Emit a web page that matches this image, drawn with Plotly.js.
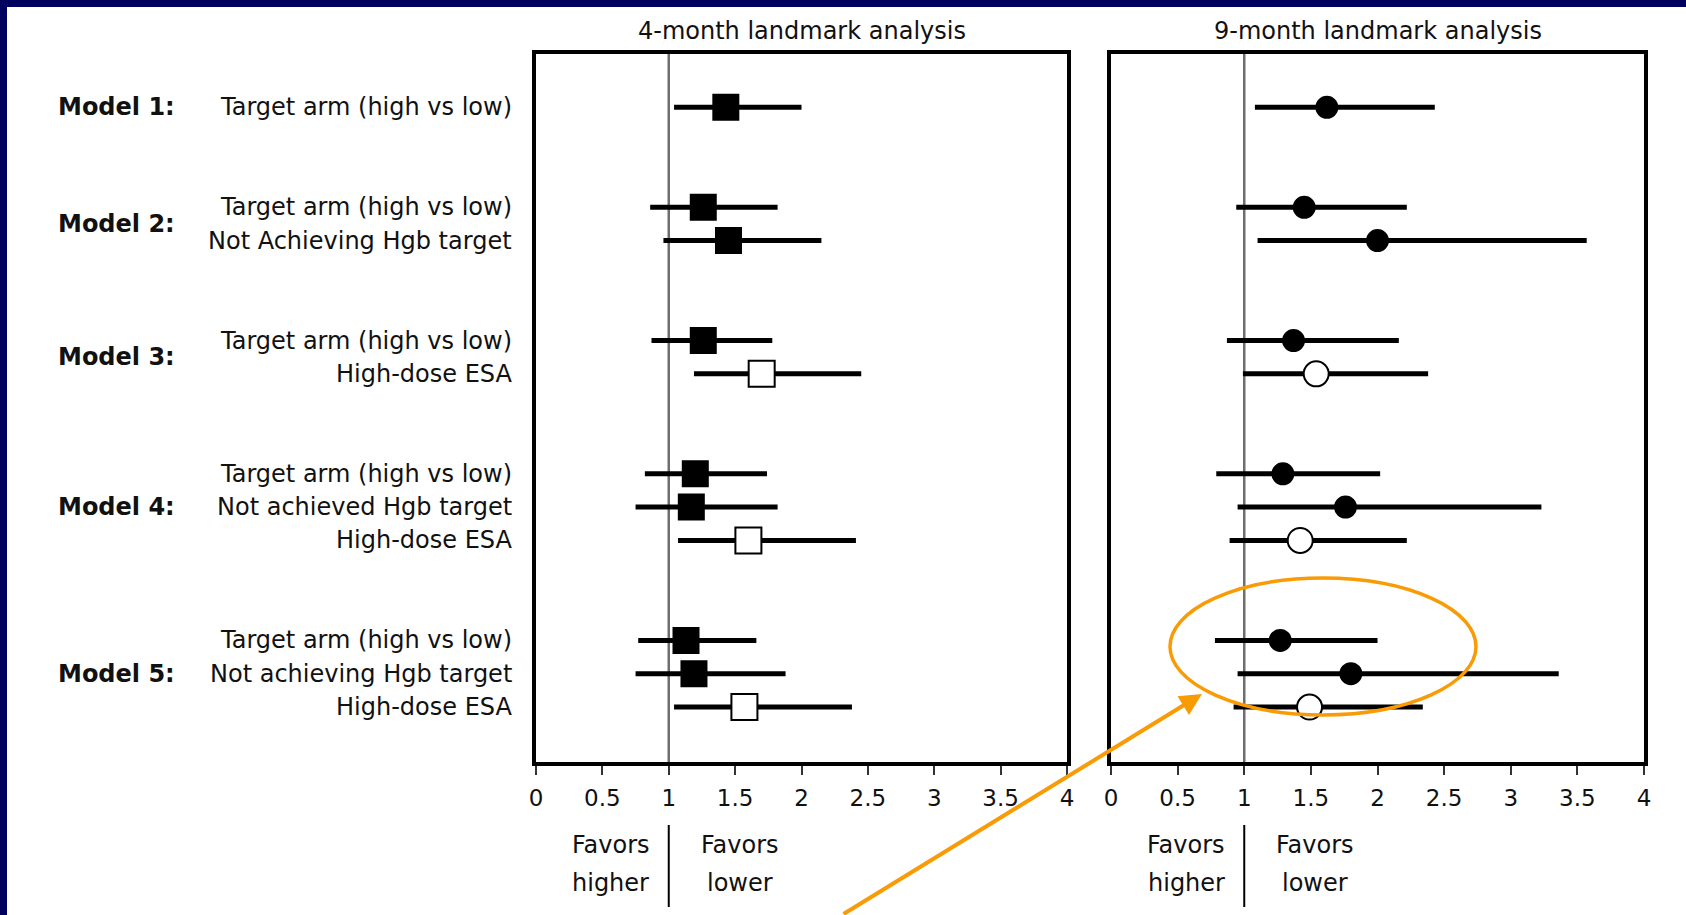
<!DOCTYPE html>
<html>
<head>
<meta charset="utf-8">
<script src="https://cdn.plot.ly/plotly-3.0.1.min.js"></script>
<style>
  html, body { margin: 0; padding: 0; background: #ffffff; }
  #chart { width: 1686px; height: 915px; }
</style>
</head>
<body>
<div id="chart"></div>
<script>
// ---------- data ----------
const modelNames = ['Model 1:', 'Model 2:', 'Model 3:', 'Model 4:', 'Model 5:'];
const rowLabels = [
  'Target arm (high vs low)',
  'Target arm (high vs low)', 'Not Achieving Hgb target',
  'Target arm (high vs low)', 'High-dose ESA',
  'Target arm (high vs low)', 'Not achieved Hgb target', 'High-dose ESA',
  'Target arm (high vs low)', 'Not achieving Hgb target', 'High-dose ESA'
];
const rowModel = [0, 1, 1, 2, 2, 3, 3, 3, 4, 4, 4];
const isESA    = [0, 0, 0, 0, 1, 0, 0, 1, 0, 0, 1];

// 4-month landmark analysis (hazard ratio, 95% CI)
const hr4   = [1.43, 1.26, 1.45, 1.26, 1.70, 1.20, 1.17, 1.60, 1.13, 1.19, 1.57];
const lo4   = [1.04, 0.86, 0.96, 0.87, 1.19, 0.82, 0.75, 1.07, 0.77, 0.75, 1.04];
const hi4   = [2.00, 1.82, 2.15, 1.78, 2.45, 1.74, 1.82, 2.41, 1.66, 1.88, 2.38];

// 9-month landmark analysis
const hr9   = [1.62, 1.45, 2.00, 1.37, 1.54, 1.29, 1.76, 1.42, 1.27, 1.80, 1.49];
const lo9   = [1.08, 0.94, 1.10, 0.87, 0.99, 0.79, 0.95, 0.89, 0.78, 0.95, 0.92];
const hi9   = [2.43, 2.22, 3.57, 2.16, 2.38, 2.02, 3.23, 2.22, 2.00, 3.36, 2.34];

const tickVals = [0, 0.5, 1, 1.5, 2, 2.5, 3, 3.5, 4];
const tickText = ['0', '0.5', '1', '1.5', '2', '2.5', '3', '3.5', '4'];
const panelTitles = ['4-month landmark analysis', '9-month landmark analysis'];
const favorsLeft = ['Favors', 'higher'];
const favorsRight = ['Favors', 'lower'];

// ---------- layout helpers ----------
const FONT = 'DejaVu Sans';
const TXT = '#111111';
const ORANGE = '#F99B05';
const NAVY = '#00005E';
const W = 1686, H = 915;
const px = v => v / W;            // horizontal pixel -> paper
const py = v => (H - v) / H;      // vertical pixel (from top) -> paper

// row positions: one unit per row, two extra units between models
const rowY = rowLabels.map((_, i) => i + 2 * rowModel[i]);

function panelTrace(hr, lo, hi, xa, ya, symbol, sizeFilled, sizeOpen) {
  return {
    type: 'scatter', mode: 'markers',
    x: hr, y: rowY, xaxis: xa, yaxis: ya,
    error_x: {
      type: 'data', symmetric: false,
      array: hr.map((v, i) => hi[i] - v),
      arrayminus: hr.map((v, i) => v - lo[i]),
      thickness: 5, width: 0, color: '#000000'
    },
    marker: {
      symbol: symbol,
      opacity: 1,
      size: isESA.map(e => e ? sizeOpen : sizeFilled),
      color: isESA.map(e => e ? '#ffffff' : '#000000'),
      line: { color: '#000000', width: 2 }
    },
    hoverinfo: 'skip', showlegend: false
  };
}

const traces = [
  panelTrace(hr4, lo4, hi4, 'x', 'y', 'square', 25, 26),
  panelTrace(hr9, lo9, hi9, 'x2', 'y2', 'circle', 21, 25)
];

const yRange = [19.65, -1.6];
const xAxisBase = {
  range: [0, 4], showgrid: false, zeroline: false,
  showline: true, mirror: true, linewidth: 4, linecolor: '#000000',
  ticks: 'outside', ticklen: 9, tickwidth: 2, tickcolor: '#333333',
  tickmode: 'array', tickvals: tickVals, ticktext: tickText,
  tickfont: { family: FONT, size: 23, color: TXT },
  ticklabelstandoff: 3, fixedrange: true
};
const yAxisBase = {
  range: yRange, showgrid: false, zeroline: false, showticklabels: false,
  showline: true, mirror: true, linewidth: 4, linecolor: '#000000',
  ticks: '', fixedrange: true
};

const annotations = [];
// row labels
rowLabels.forEach((t, i) => {
  annotations.push({
    xref: 'paper', yref: 'y', x: px(514), y: rowY[i],
    xanchor: 'right', yanchor: 'middle', text: t, showarrow: false,
    font: { family: FONT, size: 24, color: TXT }
  });
});
// model labels
modelNames.forEach((m, k) => {
  const ys = rowY.filter((_, i) => rowModel[i] === k);
  const yc = ys.reduce((a, b) => a + b, 0) / ys.length;
  annotations.push({
    xref: 'paper', yref: 'y', x: px(56), y: yc,
    xanchor: 'left', yanchor: 'middle', text: '<b>' + m + '</b>', showarrow: false,
    font: { family: FONT, size: 24, color: TXT }
  });
});
// panel titles and favors labels
['x', 'x2'].forEach((xa, p) => {
  annotations.push({
    xref: xa, yref: 'paper', x: 2, y: py(31),
    xanchor: 'center', yanchor: 'middle', text: panelTitles[p], showarrow: false,
    font: { family: FONT, size: 24, color: TXT }
  });
  [845, 883].forEach((yy, j) => {
    annotations.push({
      xref: xa, yref: 'paper', x: 1, xshift: -58, y: py(yy),
      xanchor: 'center', yanchor: 'middle', text: favorsLeft[j], showarrow: false,
      font: { family: FONT, size: 24, color: TXT }
    });
    annotations.push({
      xref: xa, yref: 'paper', x: 1, xshift: 71, y: py(yy),
      xanchor: 'center', yanchor: 'middle', text: favorsRight[j], showarrow: false,
      font: { family: FONT, size: 24, color: TXT }
    });
  });
});
// orange arrow
annotations.push({
  xref: 'paper', yref: 'paper', x: px(1202), y: py(694),
  ax: -360, ay: 230, axref: 'pixel', ayref: 'pixel',
  text: '', showarrow: true, arrowhead: 2, arrowsize: 1.1, arrowwidth: 4,
  arrowcolor: ORANGE
});

const shapes = [
  // navy frame bands
  { type: 'rect', xref: 'paper', yref: 'paper', x0: 0, x1: 1, y0: py(7), y1: 1,
    fillcolor: NAVY, line: { width: 0 }, layer: 'below' },
  { type: 'rect', xref: 'paper', yref: 'paper', x0: 0, x1: px(7), y0: 0, y1: 1,
    fillcolor: NAVY, line: { width: 0 }, layer: 'below' },
  // reference lines at HR = 1
  { type: 'line', xref: 'x', yref: 'y domain', x0: 1, x1: 1, y0: 0, y1: 1,
    line: { color: '#6e6e6e', width: 2.5 }, layer: 'below' },
  { type: 'line', xref: 'x2', yref: 'y2 domain', x0: 1, x1: 1, y0: 0, y1: 1,
    line: { color: '#6e6e6e', width: 2.5 }, layer: 'below' },
  // favors dividers
  { type: 'line', xref: 'x', yref: 'paper', x0: 1, x1: 1, y0: py(907), y1: py(825),
    line: { color: '#000000', width: 2 } },
  { type: 'line', xref: 'x2', yref: 'paper', x0: 1, x1: 1, y0: py(907), y1: py(825),
    line: { color: '#000000', width: 2 } },
  // orange highlight ellipse
  { type: 'circle', xref: 'paper', yref: 'paper',
    x0: px(1170), x1: px(1476), y0: py(715), y1: py(578),
    line: { color: ORANGE, width: 3.5 } }
];

const layout = {
  width: W, height: H,
  margin: { l: 0, r: 0, t: 0, b: 0 },
  paper_bgcolor: '#ffffff', plot_bgcolor: 'rgba(0,0,0,0)',
  showlegend: false,
  xaxis: Object.assign({}, xAxisBase, { domain: [px(536), px(1067)], anchor: 'y' }),
  xaxis2: Object.assign({}, xAxisBase, { domain: [px(1111), px(1644)], anchor: 'y2' }),
  yaxis: Object.assign({}, yAxisBase, { domain: [py(762), py(54)], anchor: 'x' }),
  yaxis2: Object.assign({}, yAxisBase, { domain: [py(762), py(54)], anchor: 'x2' }),
  annotations: annotations,
  shapes: shapes
};

Plotly.newPlot('chart', traces, layout, { displayModeBar: false, staticPlot: true });
</script>
</body>
</html>
